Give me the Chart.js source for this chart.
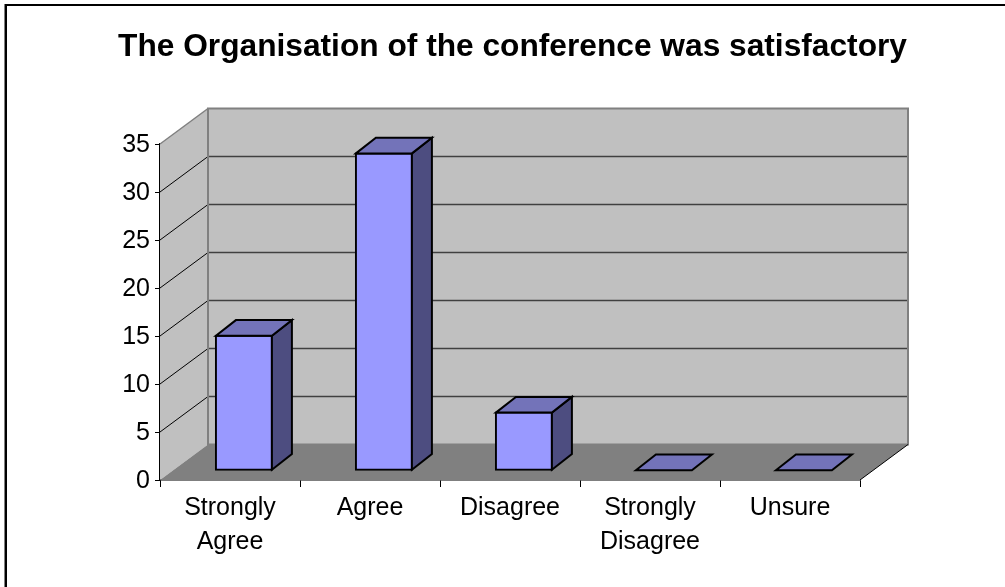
<!DOCTYPE html>
<html><head><meta charset="utf-8">
<style>html,body{margin:0;padding:0;background:#fff}#wrap{width:1005px;height:587px;position:relative}</style>
<script src="https://cdn.jsdelivr.net/npm/chart.js@4"></script>
</head><body><div id="wrap"><canvas id="c" width="1005" height="587"></canvas></div>
<script>
const categories = [["Strongly","Agree"],"Agree","Disagree",["Strongly","Disagree"],"Unsure"];
const values = [14,33,6,0,0];
const titleText = "The Organisation of the conference was satisfactory";
const FONT = "'Liberation Sans', Arial, sans-serif";
const DEPTH = {x:48, y:-35.5};
const BAR_SHIFT = {x:13.9, y:-9.8};
const BAR_DEPTH = {x:20, y:-15.7};

const frame3d = {
  id:'frame3d',
  afterLayout(chart){
    chart.titleBlock.left = 20;
    chart.titleBlock.right = 1005;
  },
  beforeDraw(chart){
    const c = chart.ctx;
    c.save();
    c.fillStyle='#fff'; c.fillRect(0,0,chart.width,chart.height);
    c.fillStyle='#808080'; c.fillRect(4,4,1,583);
    c.fillStyle='#000'; c.fillRect(5,4,2,583); c.fillRect(5,4,1000,2);
    c.restore();
  },
  beforeDatasetsDraw(chart){
    const c = chart.ctx, xs = chart.scales.x, ys = chart.scales.y;
    const L = xs.left, R = xs.right, T = ys.top, B = ys.bottom;
    const dx = DEPTH.x, dy = DEPTH.y;
    c.save();
    c.fillStyle='#c0c0c0';
    c.fillRect(L+dx, T+dy, R-L, B-T);
    c.beginPath(); c.moveTo(L,T); c.lineTo(L+dx,T+dy); c.lineTo(L+dx,B+dy); c.lineTo(L,B); c.closePath(); c.fill();
    c.fillStyle='#808080';
    c.beginPath(); c.moveTo(L,B); c.lineTo(R,B); c.lineTo(R+dx,B+dy); c.lineTo(L+dx,B+dy); c.closePath(); c.fill();
    ys.ticks.forEach(t=>{
      if(t.value===0||t.value===35) return;
      const y = Math.round(ys.getPixelForValue(t.value));
      c.strokeStyle='#404040'; c.lineWidth=1.5;
      c.beginPath(); c.moveTo(L+dx,y+dy); c.lineTo(R+dx,y+dy); c.stroke();
      c.strokeStyle='#000'; c.lineWidth=1;
      c.beginPath(); c.moveTo(L,y); c.lineTo(L+dx,y+dy); c.stroke();
    });
    c.strokeStyle='#808080'; c.lineWidth=2;
    c.strokeRect(L+dx, T+dy, R-L, B-T);
    c.lineWidth=1.5;
    c.beginPath(); c.moveTo(L,T); c.lineTo(L+dx,T+dy); c.stroke();
    c.strokeStyle='#000'; c.lineWidth=1;
    c.beginPath(); c.moveTo(R,B); c.lineTo(R+dx,B+dy); c.stroke();
    c.restore();
  },
  beforeDatasetDraw(chart){
    const c = chart.ctx;
    c.save();
    c.translate(BAR_SHIFT.x, BAR_SHIFT.y);
  },
  afterDatasetDraw(chart, args){
    const c = chart.ctx;
    const meta = chart.getDatasetMeta(args.index);
    c.lineJoin='miter'; c.strokeStyle='#000'; c.lineWidth=2;
    meta.data.forEach(b=>{
      const l=b.x-b.width/2, r=b.x+b.width/2, t=b.y, bot=b.base;
      const dx=BAR_DEPTH.x, dy=BAR_DEPTH.y;
      if(bot-t>0.5){
        c.fillStyle='#4d4d80';
        c.beginPath(); c.moveTo(r,t); c.lineTo(r+dx,t+dy); c.lineTo(r+dx,bot+dy); c.lineTo(r,bot); c.closePath(); c.fill(); c.stroke();
      }
      c.fillStyle='#7373b9';
      c.beginPath(); c.moveTo(l,t); c.lineTo(l+dx,t+dy); c.lineTo(r+dx,t+dy); c.lineTo(r,t); c.closePath(); c.fill(); c.stroke();
    });
    c.restore();
  }
};

function nudgeLabels(scale, dy){
  if(scale._nudged) return;
  scale._nudged = true;
  const orig = scale.drawLabels;
  scale.drawLabels = function(a){
    this.ctx.save(); this.ctx.translate(0,dy); orig.call(this,a); this.ctx.restore();
  };
}

new Chart(document.getElementById('c'),{
  type:'bar',
  data:{labels:categories,datasets:[{data:values,backgroundColor:'#9999ff',borderColor:'#000',borderWidth:2,borderSkipped:false,inflateAmount:1,barPercentage:0.4,categoryPercentage:1,clip:false}]},
  plugins:[frame3d],
  options:{
    responsive:false,animation:false,
    layout:{padding:{left:0,right:145,top:0,bottom:0}},
    plugins:{
      legend:{display:false},tooltip:{enabled:false},
      title:{display:true,text:titleText,color:'#000',font:{family:FONT,size:31.7,weight:'bold',lineHeight:1.2},padding:{top:28,bottom:77.96}}
    },
    scales:{
      x:{type:'category',
         grid:{drawOnChartArea:false,drawTicks:true,tickLength:7,color:'#000',offset:true},
         border:{display:true,color:'#000',width:1.5},
         ticks:{color:'#000',font:{family:FONT,size:25,lineHeight:1.36},padding:4,autoSkip:false,maxRotation:0,minRotation:0},
         afterFit(s){s.height=107;}},
      y:{min:0,max:35,
         grid:{drawOnChartArea:false,drawTicks:true,tickLength:5,color:'#000'},
         border:{display:true,color:'#000',width:1.5},
         ticks:{stepSize:5,color:'#000',font:{family:FONT,size:25},padding:5},
         afterFit(s){s.width=160; nudgeLabels(s,1.5);}}
    }
  }
});
</script></body></html>
